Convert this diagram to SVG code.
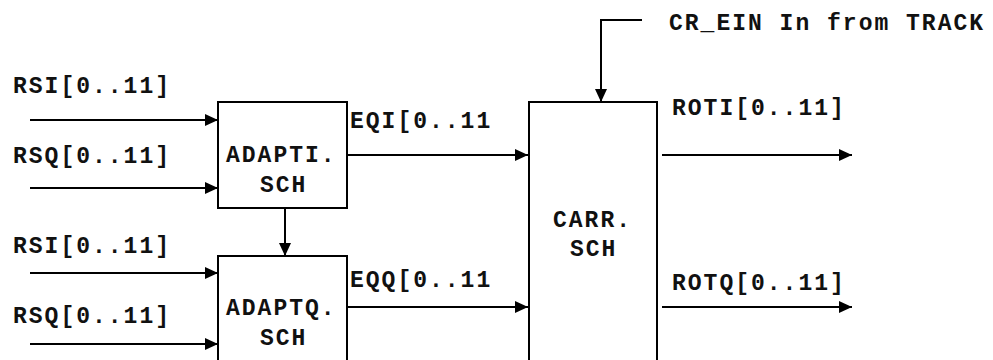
<svg xmlns="http://www.w3.org/2000/svg" width="993" height="360" viewBox="0 0 993 360">
<defs>
<style>
text{font-family:"Liberation Mono","Courier New",monospace;font-weight:bold;font-size:23px;letter-spacing:2px;fill:#111}
.box{fill:#fff;stroke:#000;stroke-width:2}
.ln{fill:none;stroke:#000;stroke-width:2}
</style>
<marker id="ah" markerWidth="13" markerHeight="12" refX="13" refY="6" orient="auto" markerUnits="userSpaceOnUse">
<path d="M0,0 L13,6 L0,12 Z" fill="#000"/>
</marker>
</defs>
<rect width="993" height="360" fill="#fff"/>
<g id="connectors">
<line class="ln" x1="30" y1="120" x2="218" y2="120" marker-end="url(#ah)"/>
<line class="ln" x1="30" y1="188" x2="218" y2="188" marker-end="url(#ah)"/>
<line class="ln" x1="30" y1="273" x2="218" y2="273" marker-end="url(#ah)"/>
<line class="ln" x1="30" y1="344" x2="218" y2="344" marker-end="url(#ah)"/>
<line class="ln" x1="285" y1="208" x2="285" y2="256" marker-end="url(#ah)"/>
<line class="ln" x1="340" y1="155" x2="528" y2="155" marker-end="url(#ah)"/>
<line class="ln" x1="340" y1="307" x2="528" y2="307" marker-end="url(#ah)"/>
<polyline class="ln" points="642,20 601,20 601,102" marker-end="url(#ah)"/>
<line class="ln" x1="662" y1="155" x2="852" y2="155" marker-end="url(#ah)"/>
<line class="ln" x1="662" y1="307" x2="852" y2="307" marker-end="url(#ah)"/>
<text x="13" y="93">RSI[0..11]</text>
<text x="13" y="163">RSQ[0..11]</text>
<text x="13" y="253">RSI[0..11]</text>
<text x="13" y="323">RSQ[0..11]</text>
<text x="350" y="128">EQI[0..11</text>
<text x="350" y="287">EQQ[0..11</text>
<text x="669" y="30">CR_EIN In from TRACK</text>
<text x="672" y="115">ROTI[0..11]</text>
<text x="672" y="290">ROTQ[0..11]</text>
</g>
<g id="adapti">
<rect class="box" x="218" y="102" width="129" height="106"/>
<text x="226" y="162">ADAPTI.</text>
<text x="260" y="192">SCH</text>
</g>
<g id="adaptq">
<rect class="box" x="218" y="256" width="129" height="120"/>
<text x="226" y="315">ADAPTQ.</text>
<text x="260" y="345">SCH</text>
</g>
<g id="carr">
<rect class="box" x="529" y="102" width="128" height="280"/>
<text x="553" y="227">CARR.</text>
<text x="570" y="256">SCH</text>
</g>
</svg>
